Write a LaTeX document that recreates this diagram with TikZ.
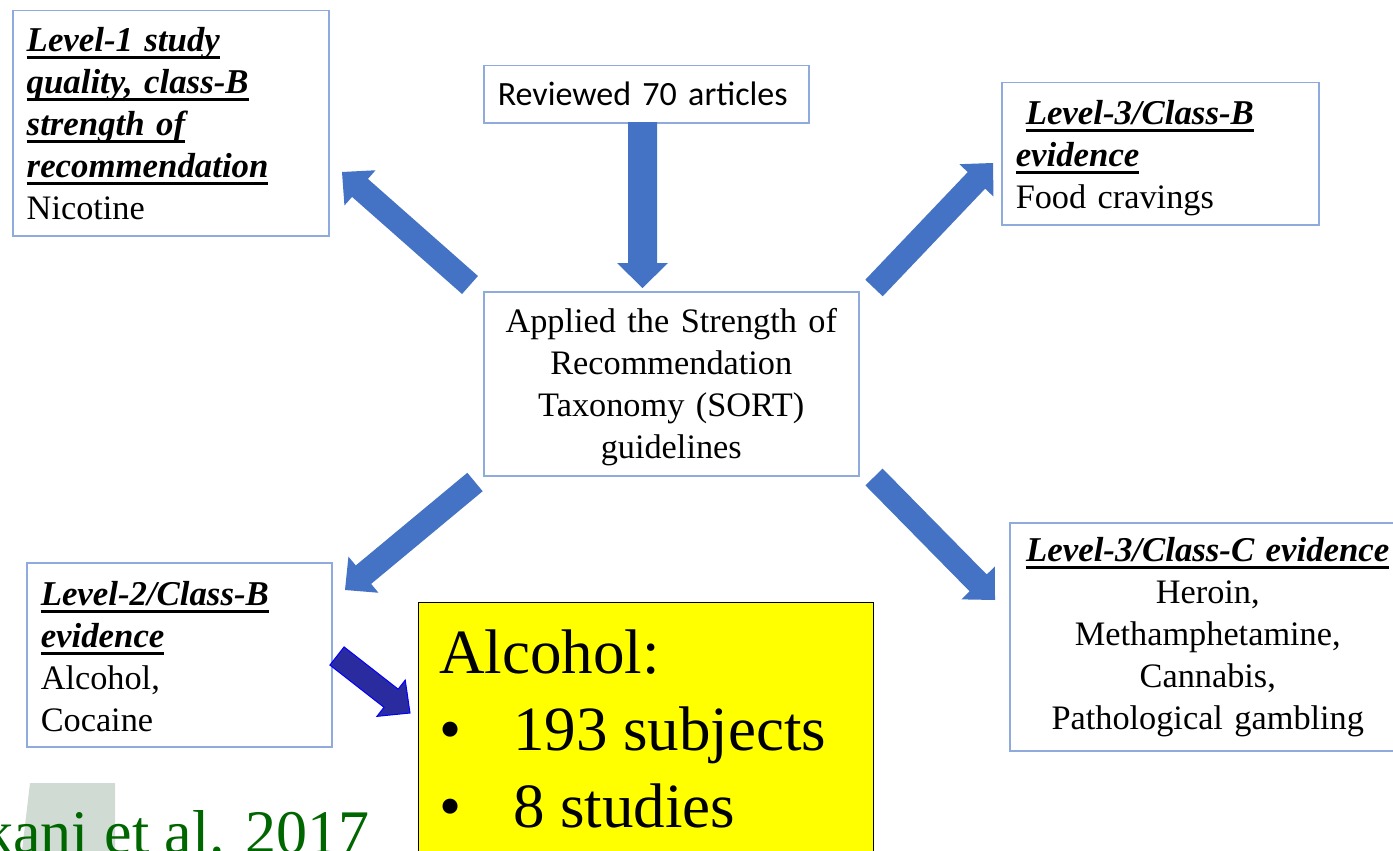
\documentclass[tikz,border=0pt]{standalone}
\usepackage{fontspec}
\setmainfont{Liberation Serif}
\newfontfamily\calib{Carlito}
\usetikzlibrary{calc}
\definecolor{boxblue}{RGB}{143,170,220}
\definecolor{arrblue}{RGB}{68,114,196}
\definecolor{darkarr}{RGB}{43,43,160}
\definecolor{citegreen}{RGB}{0,102,0}
\definecolor{patchgray}{RGB}{208,219,211}
\definecolor{hiyellow}{RGB}{255,255,0}
\newcommand\hul[1]{\leavevmode\setbox0\hbox{#1}\rlap{\rule[-8pt]{\wd0}{2.8pt}}\box0}
\newcommand\hd[1]{{\fontsize{34.8}{42}\selectfont\bfseries\itshape\hul{#1}}}
% first-line strut that moves the text block down by #1
\newcommand\topstrut[1]{\rule{0pt}{\dimexpr 29.4pt+2\dimexpr #1\relax\relax}}
\newcommand\blockarrow[6]{%
  \coordinate (ba-hb) at ($(#3)!#6!(#2)$);
  \path[#1] ($(#2)!#4!90:(#3)$) -- ($(ba-hb)!#4!90:(#3)$) -- ($(ba-hb)!#5!90:(#3)$) -- (#3)
    -- ($(ba-hb)!#5!-90:(#3)$) -- ($(ba-hb)!#4!-90:(#3)$) -- ($(#2)!#4!-90:(#3)$) -- cycle;
}
\begin{document}
\begin{tikzpicture}[x=1pt,y=-1pt,
  box/.style={draw=boxblue, line width=1.5pt, fill=white, rectangle, anchor=north west,
    inner xsep=14pt, inner ysep=0pt, font=\fontsize{34.3}{42}\selectfont},
  bigtext/.style={anchor=base west, inner sep=0pt, font=\fontsize{63}{77}\selectfont},
  arrowfill/.style={fill=arrblue},
  smallarrow/.style={fill=darkarr, draw=blue, line width=1pt, line join=miter}]
\useasboundingbox (0,0) rectangle (1393,851);
\fill[white] (0,0) rectangle (1393,851);

% boxes
\node[box, font=\calib\fontsize{34}{40}\selectfont, minimum width=325pt, minimum height=57pt,
  text width=297pt, align=left] (rev) at (483,65) {Reviewed 70 articles};
\node[box, minimum width=375pt, minimum height=184pt, text width=347pt, align=center] (sort) at (483,291)
  {\topstrut{3.5pt}Applied the Strength of\\ Recommendation\\ Taxonomy (SORT)\\ guidelines\strut};
\node[box, minimum width=316pt, minimum height=225pt, text width=288pt, align=left] (tl) at (12,10)
  {\topstrut{3.5pt}\hd{Level-1 study}\\ \hd{quality, class-B}\\ \hd{strength of}\\ \hd{recommendation}\\ Nicotine\strut};
\node[box, minimum width=317pt, minimum height=142pt, text width=289pt, align=left] (tr) at (1001,82)
  {\topstrut{4pt}\hspace*{10pt}\hd{Level-3/Class-B}\\ \hd{evidence}\\ Food cravings\strut};
\node[box, minimum width=305pt, minimum height=184pt, text width=277pt, align=left] (bl) at (26,562)
  {\topstrut{5pt}\hd{Level-2/Class-B}\\ \hd{evidence}\\ Alcohol,\\ Cocaine\strut};
\node[box, minimum width=396pt, minimum height=228pt, text width=368pt, align=center] (br) at (1009,522)
  {\strut\hd{Level-3/Class-C evidence}\\ Heroin,\\ Methamphetamine,\\ Cannabis,\\ Pathological gambling\strut};

% yellow box
\node[draw=black, line width=1.2pt, fill=hiyellow, anchor=north west, minimum width=455pt,
  minimum height=280pt, inner sep=0pt] (yel) at (418,602) {};
\node[bigtext] (y1) at (439,673) {Alcohol:};
\node[bigtext] (y2) at (439,750) {\makebox[74pt][l]{\textbullet}193 subjects};
\node[bigtext] (y3) at (439,827) {\makebox[74pt][l]{\textbullet}8 studies};

% arrow end points
\coordinate (a1s) at (642.5,122);  \coordinate (a1e) at (642.5,288);
\coordinate (a2s) at (470,285);    \coordinate (a2e) at (342,172);
\coordinate (a3s) at (874,288);    \coordinate (a3e) at (993,163);
\coordinate (a4s) at (475,482);    \coordinate (a4e) at (345,590);
\coordinate (a5s) at (874,477);    \coordinate (a5e) at (995,600);
\coordinate (a6s) at (337,656);    \coordinate (a6e) at (410,713);

\blockarrow{arrowfill}{a1s}{a1e}{14.5pt}{25.5pt}{25pt}
\blockarrow{arrowfill}{a2s}{a2e}{12pt}{23.5pt}{24pt}
\blockarrow{arrowfill}{a3s}{a3e}{12pt}{23.5pt}{24pt}
\blockarrow{arrowfill}{a4s}{a4e}{12pt}{23.5pt}{24pt}
\blockarrow{arrowfill}{a5s}{a5e}{12pt}{23.5pt}{24pt}
\blockarrow{smallarrow}{a6s}{a6e}{11.5pt}{23pt}{24pt}

% citation fragment
\fill[patchgray] (30,783) -- (115,783) -- (115,851) -- (22,851) -- cycle;
\node[anchor=base east, inner sep=0pt, text=citegreen, font=\fontsize{62}{62}\selectfont] (cite) at (370,853) {kani et al. 2017};
\end{tikzpicture}
\end{document}
